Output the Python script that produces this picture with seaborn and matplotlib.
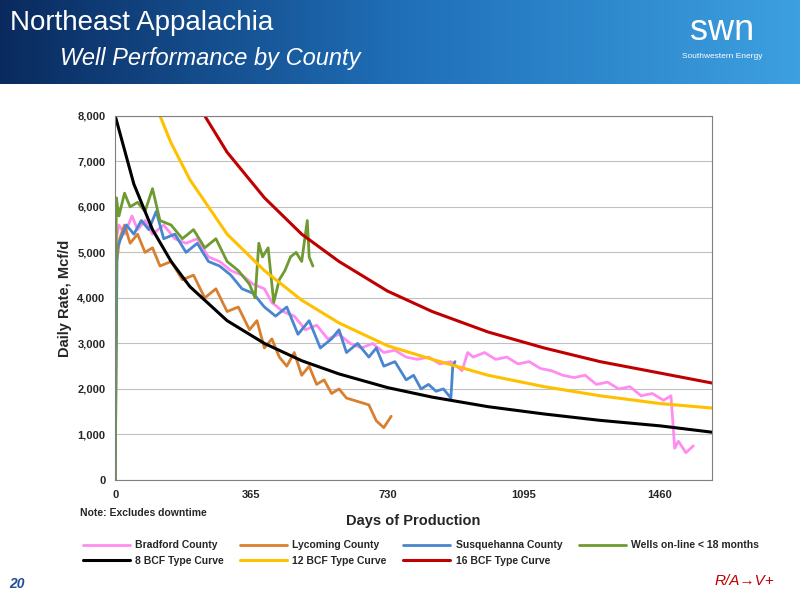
import numpy as np
import pandas as pd
import matplotlib
matplotlib.use("Agg")
import matplotlib.pyplot as plt
import seaborn as sns

sns.set_style("white")
plt.rcParams["font.family"] = ["Liberation Sans", "DejaVu Sans"]

# Production data (days, Mcf/d)
brad_days = [0, 3, 10, 25, 45, 60, 80, 100, 130, 160, 190, 220, 250, 280, 310, 340, 370, 400, 420, 450, 480, 510, 540, 570, 600, 630, 660, 690, 720, 750, 780, 810, 840, 870, 900, 930, 945, 960, 990, 1020, 1050, 1080, 1110, 1140, 1170, 1200, 1230, 1260, 1290, 1320, 1350, 1380, 1410, 1440, 1470, 1490, 1500, 1510, 1530, 1550]
brad_rate = [0, 5300, 5600, 5400, 5800, 5500, 5700, 5400, 5600, 5300, 5200, 5300, 4900, 4800, 4600, 4500, 4300, 4200, 3900, 3700, 3600, 3300, 3400, 3100, 3200, 3000, 2900, 3000, 2800, 2850, 2700, 2650, 2700, 2550, 2600, 2400, 2800, 2700, 2800, 2650, 2700, 2550, 2600, 2450, 2400, 2300, 2250, 2300, 2100, 2150, 2000, 2050, 1850, 1900, 1750, 1850, 700, 850, 600, 750]
lyc_days = [0, 4, 12, 25, 40, 60, 80, 100, 120, 150, 180, 210, 240, 270, 300, 330, 360, 380, 400, 420, 440, 460, 480, 500, 520, 540, 560, 580, 600, 620, 640, 660, 680, 700, 720, 740]
lyc_rate = [0, 4800, 5300, 5600, 5200, 5400, 5000, 5100, 4700, 4800, 4400, 4500, 4000, 4200, 3700, 3800, 3300, 3500, 2900, 3100, 2700, 2500, 2800, 2300, 2500, 2100, 2200, 1900, 2000, 1800, 1750, 1700, 1650, 1300, 1150, 1400]
sus_days = [0, 5, 15, 30, 50, 70, 90, 110, 130, 160, 190, 220, 250, 280, 310, 340, 370, 400, 430, 460, 490, 520, 550, 580, 600, 620, 650, 680, 700, 720, 750, 780, 800, 820, 840, 860, 880, 900, 905, 911]
sus_rate = [0, 5100, 5300, 5600, 5400, 5700, 5500, 5900, 5300, 5400, 5000, 5200, 4800, 4700, 4500, 4200, 4100, 3800, 3600, 3800, 3200, 3500, 2900, 3100, 3300, 2800, 3000, 2700, 2900, 2500, 2600, 2200, 2300, 2000, 2100, 1950, 2000, 1800, 2500, 2600]
grn_days = [0, 3, 10, 25, 40, 60, 80, 100, 120, 150, 180, 210, 240, 270, 300, 330, 360, 375, 385, 395, 410, 425, 440, 455, 470, 485, 500, 515, 520, 530]
grn_rate = [0, 6200, 5800, 6300, 6000, 6100, 5900, 6400, 5700, 5600, 5300, 5500, 5100, 5300, 4800, 4600, 4300, 4000, 5200, 4900, 5100, 3900, 4400, 4600, 4900, 5000, 4800, 5700, 4900, 4700]

# Type curves
tc_days = [0, 50, 100, 150, 200, 300, 400, 500, 600, 730, 850, 1000, 1150, 1300, 1460, 1600]
tc8 = [8000, 6500, 5500, 4800, 4250, 3500, 3000, 2620, 2330, 2030, 1820, 1610, 1450, 1310, 1190, 1050]
tc12_days = [120, 150, 200, 300, 400, 500, 600, 730, 850, 1000, 1150, 1300, 1460, 1600]
tc12 = [8000, 7400, 6600, 5400, 4600, 3950, 3450, 2950, 2650, 2300, 2050, 1850, 1680, 1580]
tc16_days = [240, 300, 400, 500, 600, 730, 850, 1000, 1150, 1300, 1460, 1600]
tc16 = [8000, 7200, 6200, 5400, 4800, 4150, 3700, 3250, 2900, 2600, 2350, 2130]

fig = plt.figure(figsize=(8, 6), dpi=100)

# header banner
band = fig.add_axes([0, 0.86, 1, 0.14])
grad = np.linspace(0, 1, 256).reshape(1, -1)
band.imshow(grad, aspect="auto", cmap=matplotlib.colors.LinearSegmentedColormap.from_list("b", ["#0a2a5e", "#1f6fb8", "#3da0e0"]))
band.axis("off")
fig.text(0.012, 0.962, "Northeast Appalachia", color="white", fontsize=20, va="center")
fig.text(0.075, 0.903, "Well Performance by County", color="white", fontsize=17, style="italic", va="center")
fig.text(0.903, 0.95, "swn", color="white", fontsize=26, ha="center", va="center")
fig.text(0.903, 0.905, "Southwestern Energy", color="white", fontsize=6, ha="center", va="center")

ax = fig.add_axes([0.144, 0.2, 0.746, 0.607])
series = [("Bradford County", brad_days, brad_rate, "#ff8cf0"),
          ("Lycoming County", lyc_days, lyc_rate, "#d98030"),
          ("Susquehanna County", sus_days, sus_rate, "#4a86d0"),
          ("Wells on-line < 18 months", grn_days, grn_rate, "#6f9a32")]
for name, d, r, c in series:
    sns.lineplot(x=d, y=r, ax=ax, color=c, lw=2, label=name)
sns.lineplot(x=tc_days, y=tc8, ax=ax, color="black", lw=2.2, label="8 BCF Type Curve")
sns.lineplot(x=tc12_days, y=tc12, ax=ax, color="#ffc000", lw=2.2, label="12 BCF Type Curve")
sns.lineplot(x=tc16_days, y=tc16, ax=ax, color="#c00000", lw=2.2, label="16 BCF Type Curve")

ax.set_xlim(0, 1600)
ax.set_ylim(0, 8000)
ax.set_xticks([0, 365, 730, 1095, 1460])
ax.set_yticks(range(0, 8001, 1000))
ax.set_yticklabels([f"{v:,}" for v in range(0, 8001, 1000)])
ax.grid(axis="y", color="#c0c0c0", lw=0.8)
for s in ax.spines.values():
    s.set_color("#808080")
ax.tick_params(labelsize=8)
for t in ax.get_xticklabels() + ax.get_yticklabels():
    t.set_fontweight("bold")
ax.set_xlabel("Days of Production", fontsize=10.5, fontweight="bold", labelpad=10)
ax.set_ylabel("Daily Rate, Mcf/d", fontsize=10.5, fontweight="bold")

h, l = ax.get_legend_handles_labels()
order = [0, 4, 1, 5, 2, 6, 3]
ax.legend([h[i] for i in order], [l[i] for i in order], loc="upper left",
          bbox_to_anchor=(-0.07, -0.14), ncol=4, frameon=False,
          prop={"weight": "bold", "size": 7.5}, handlelength=4.5, handletextpad=0.5,
          columnspacing=1.6)
fig.text(0.1, 0.14, "Note: Excludes downtime", fontsize=7.5, fontweight="bold")

fig.text(0.012, 0.02, "20", color="#1f4e9c", fontsize=10, style="italic", fontweight="bold")
fig.text(0.93, 0.025, "R/A→V+", color="#c00000", fontsize=11, style="italic", ha="center")

fig.savefig("out.png", dpi=100)
